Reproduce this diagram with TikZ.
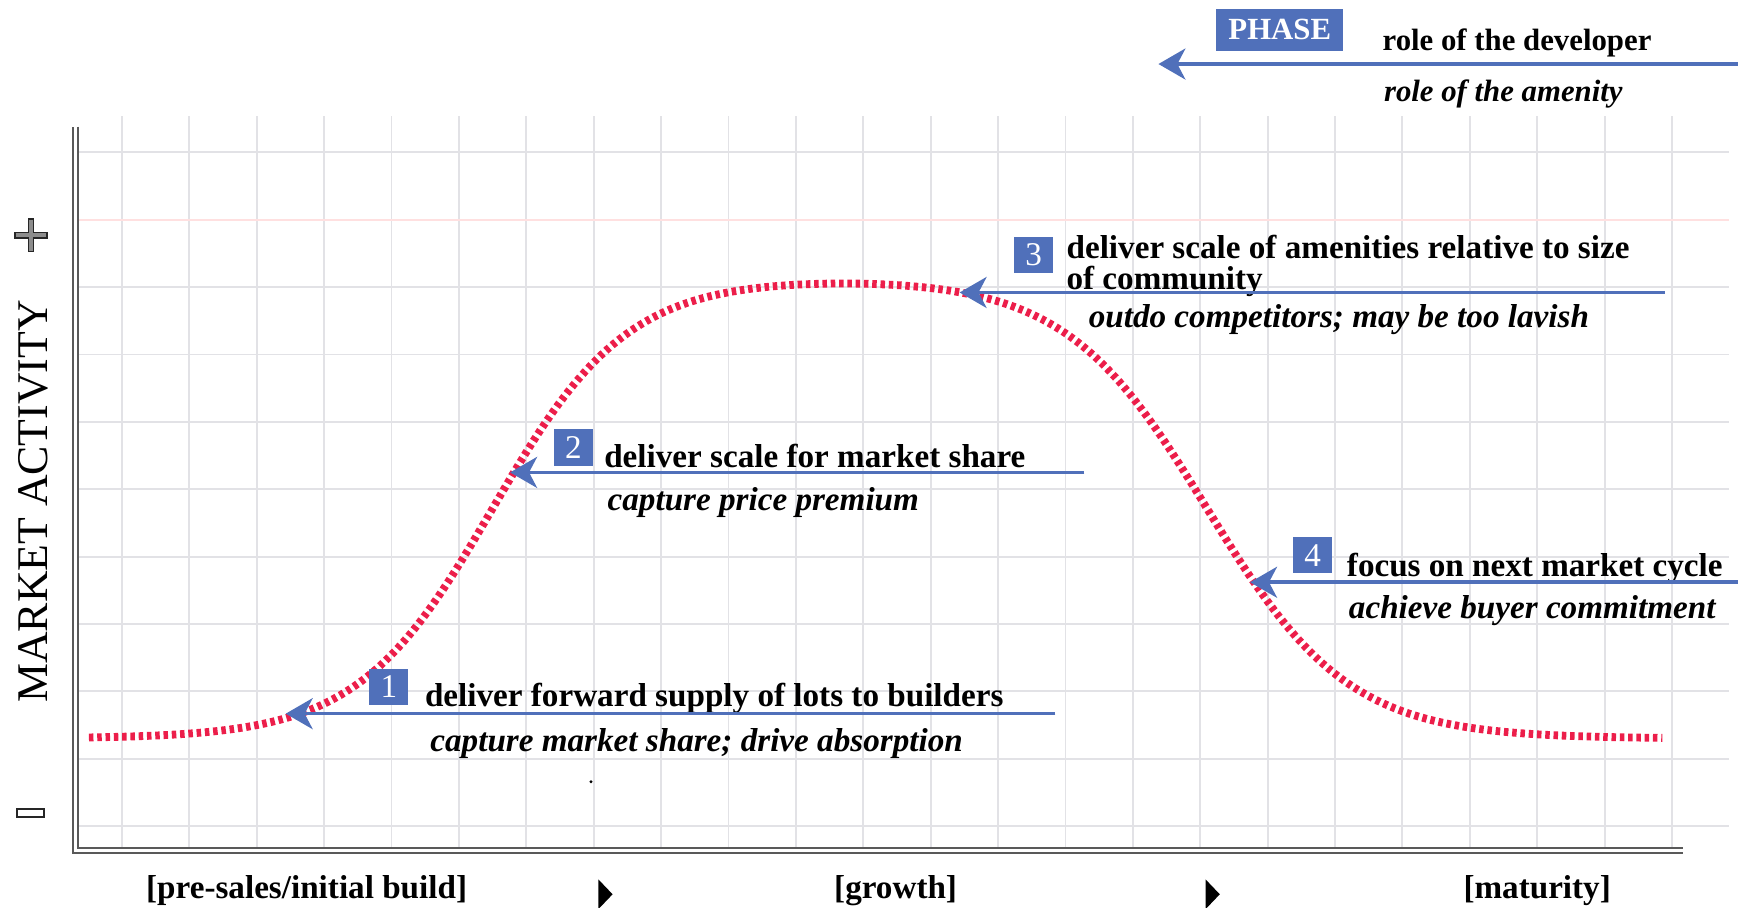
\documentclass[tikz,border=0pt]{standalone}
\usepackage{fontspec}
\setmainfont{Liberation Serif}
\usetikzlibrary{arrows.meta}

\definecolor{phaseblue}{RGB}{80,112,186}
\definecolor{curvered}{RGB}{236,30,74}
\definecolor{gridgray}{RGB}{226,226,230}

\begin{document}
\begin{tikzpicture}[>={Stealth[length=4mm,width=4.6mm,inset=1.2mm]},x=1cm,y=1cm,
    gridline/.style={gridgray,line width=0.8pt},
    axisline/.style={draw=black!65,double=white,double distance=0.9pt,line width=0.9pt},
    curve/.style={curvered,line width=3.3pt,dash pattern=on 1.9pt off 1.6pt},
    role/.style={->,draw=phaseblue,line width=1.5pt},
    numbox/.style={fill=phaseblue,text=white,font=\fontsize{14}{14}\selectfont,minimum width=5.8mm,minimum height=5.4mm,inner sep=0pt},
    dev/.style={anchor=west,inner sep=0pt,font=\fontsize{14}{13}\selectfont\bfseries},
    amen/.style={anchor=west,inner sep=0pt,font=\fontsize{14}{13}\selectfont\bfseries\itshape},
    stage/.style={inner sep=0pt,font=\fontsize{14}{14}\selectfont\bfseries}]
    \useasboundingbox (-1.81,-1.21) rectangle (23.98,12.26);
    \def\base{1.3}
    \def\amp{6.83}
    % grid
    \foreach \i in {0,...,23} \draw[gridline] (\i,-0.36) -- (\i,10.54);
    \foreach \j in {0,...,8,10} \draw[gridline] (-0.69,\j) -- (23.85,\j);
    \draw[gridline,red!12] (-0.69,9) -- (23.85,9);
    \draw[axisline] (-0.69,10.38) -- (-0.69,-0.36) -- (23.16,-0.36);
    \fill (6.96,0.66) circle (0.025);
    % market curve
    \draw[curve,domain=-0.49:22.86,samples=200,smooth] plot(\x,{\base+\amp/((1+exp(-(\x-5.5)))*(1+exp((\x-16.1)/1.05)))});
    % axis labels
    \node[rotate=90,inner sep=0pt,font=\fontsize{18.5}{18.5}\selectfont] (ylab) at (-1.32,4.82) {MARKET ACTIVITY};
    \filldraw[fill=black!45,draw=black!85,line width=0.6pt] (-1.39,8.77)++(0,0.04) -- ++(0,0.2) -- ++(0.08,0) -- ++(0,-0.2) -- ++(0.2,0) -- ++(0,-0.08)
        -- ++(-0.2,0) -- ++(0,-0.2) -- ++(-0.08,0) -- ++(0,0.2) -- ++(-0.2,0) -- ++(0,0.08) -- cycle;
    \draw[black!85,line width=0.8pt] (-1.56,0.14) rectangle (-1.16,0.26);
    \node[stage] (pre) at (2.74,-0.96) {[pre-sales/initial build]};
    \node[stage] (grow) at (11.48,-0.96) {[growth]};
    \node[stage] (mat) at (21.0,-0.96) {[maturity]};
    \fill (7.07,-0.79) -- (7.28,-1.01) -- (7.07,-1.23) -- cycle;
    \fill (16.08,-0.79) -- (16.29,-1.01) -- (16.08,-1.23) -- cycle;
    % legend
    \node[numbox,minimum width=1.89cm,minimum height=0.62cm,font=\fontsize{13}{13}\selectfont\bfseries] (phase) at (17.18,11.82) {PHASE};
    \node[anchor=west,inner sep=0pt,font=\fontsize{13}{13}\selectfont\bfseries] (ldev) at (18.7,11.63) {role of the developer};
    \node[anchor=west,inner sep=0pt,font=\fontsize{13}{13}\selectfont\bfseries\itshape] (lamen) at (18.72,10.86) {role of the amenity};
    \coordinate (ls) at (23.98,11.31);
    \coordinate (lt) at (15.38,11.31);
    \draw[role] (ls) -- (lt);
    % phase 1
    \node[numbox] (n1) at (3.96,2.07) {1};
    \node[dev] (d1) at (4.49,1.89) {deliver forward supply of lots to builders};
    \node[amen] (m1) at (4.57,1.23) {capture market share; drive absorption};
    \coordinate (s1) at (13.85,1.67);
    \coordinate (t1) at (2.43,1.67);
    \draw[role] (s1) -- (t1);
    % phase 2
    \node[numbox] (n2) at (6.70,5.62) {2};
    \node[dev] (d2) at (7.15,5.50) {deliver scale for market share};
    \node[amen] (m2) at (7.2,4.81) {capture price premium};
    \coordinate (s2) at (14.28,5.25);
    \coordinate (t2) at (5.76,5.25);
    \draw[role] (s2) -- (t2);
    % phase 3
    \node[numbox] (n3) at (13.53,8.48) {3};
    \node[dev,align=left] (d3) at (14.01,8.31) {deliver scale of amenities relative to size\\of community};
    \node[amen] (m3) at (14.34,7.52) {outdo competitors; may be too lavish};
    \coordinate (s3) at (22.89,7.92);
    \coordinate (t3) at (12.43,7.92);
    \draw[role] (s3) -- (t3);
    % phase 4
    \node[numbox] (n4) at (17.67,4.02) {4};
    \node[dev] (d4) at (18.17,3.82) {focus on next market cycle};
    \node[amen] (m4) at (18.2,3.20) {achieve buyer commitment};
    \coordinate (s4) at (23.98,3.62);
    \coordinate (t4) at (16.74,3.62);
    \draw[role] (s4) -- (t4);
\end{tikzpicture}
\end{document}
